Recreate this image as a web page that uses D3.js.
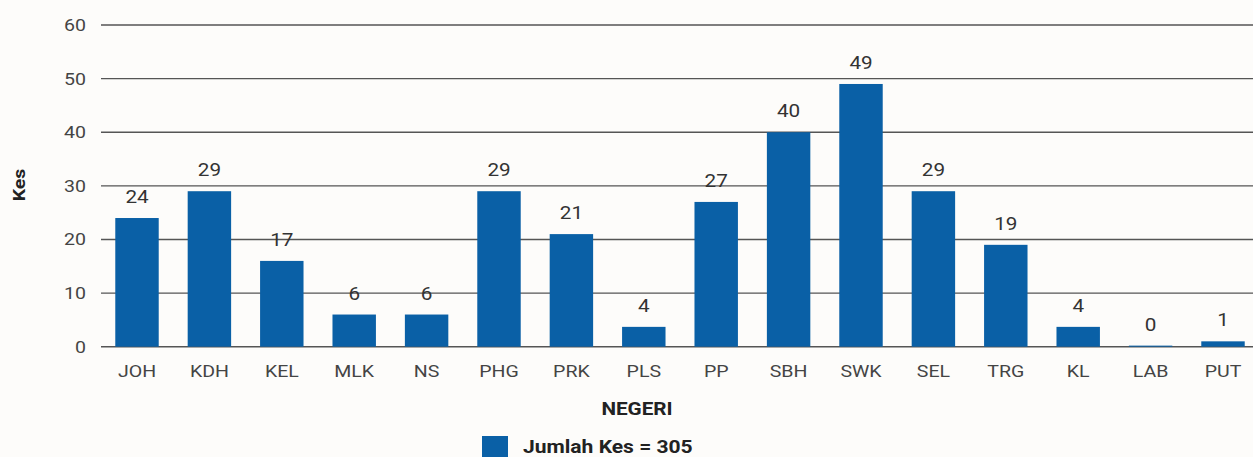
<!DOCTYPE html>
<html><head><meta charset="utf-8">
<script src="https://cdn.jsdelivr.net/npm/d3@7"></script>
<style>
html,body{margin:0;padding:0;background:#fdfcfa;}
svg{display:block;font-family:Roboto,"Noto Sans",sans-serif;}
</style></head>
<body><svg id="c" width="1253" height="457"></svg>
<script>
const categories = ["JOH","KDH","KEL","MLK","NS","PHG","PRK","PLS","PP","SBH","SWK","SEL","TRG","KL","LAB","PUT"];
const values = [24,29,16,6,6,29,21,3.7,27,40,49,29,19,3.7,0.2,1];
const valueLabels = ["24","29","17","6","6","29","21","4","27","40","49","29","19","4","0","1"];
const yTicks = [0,10,20,30,40,50,60];
const legendText = "Jumlah Kes = 305";

const svg = d3.select("#c");
const plotLeft = 101, plotRight = 1253, plotTop = 25, plotBottom = 346.7;
const bandStart = 100.8, bandEnd = 1259.2;
const x = d3.scaleBand().domain(categories).range([bandStart, bandEnd]).paddingInner(0.4).paddingOuter(0.2);
const y = d3.scaleLinear().domain([0,60]).range([plotBottom, plotTop]);
const barColor = "#0a60a6";
const SX = 1.15;

// gridlines
svg.append("g").selectAll("line").data(yTicks).join("line")
  .attr("x1", plotLeft).attr("x2", plotRight)
  .attr("y1", d => y(d)).attr("y2", d => y(d))
  .attr("stroke", "#555").attr("stroke-width", 1.4);

// y axis labels
const yAxis = svg.append("g").attr("transform", `translate(${plotLeft-15},0)`)
  .call(d3.axisLeft(y).tickValues(yTicks).tickSize(0).tickPadding(0));
yAxis.select(".domain").remove();
yAxis.selectAll("text").attr("font-size", 17).attr("fill", "#444").attr("font-family", "Roboto")
  .attr("transform", `scale(${SX},1)`);

// bars
svg.append("g").selectAll("rect").data(categories).join("rect")
  .attr("x", d => x(d)).attr("width", x.bandwidth())
  .attr("y", (d,i) => y(values[i])).attr("height", (d,i) => y(0) - y(values[i]))
  .attr("fill", barColor);

// value labels
svg.append("g").selectAll("text").data(categories).join("text")
  .attr("transform", (d,i) => `translate(${x(d) + x.bandwidth()/2},${y(values[i]) - 15}) scale(${SX},1)`)
  .attr("text-anchor", "middle").attr("font-size", 18).attr("fill", "#333")
  .text((d,i) => valueLabels[i]);

// x axis labels
const xAxis = svg.append("g").attr("transform", `translate(0,${plotBottom})`)
  .call(d3.axisBottom(x).tickSize(0).tickPadding(18));
xAxis.select(".domain").remove();
xAxis.selectAll("text").attr("font-size", 17).attr("fill", "#444").attr("font-family", "Roboto")
  .attr("transform", `scale(${SX},1)`);

// axis titles
svg.append("text").attr("transform", `translate(25,185) rotate(-90) scale(${SX},1)`)
  .attr("text-anchor", "middle").attr("font-size", 17).attr("font-weight", "bold").attr("fill", "#222")
  .text("Kes");
svg.append("text").attr("transform", `translate(637,415) scale(${SX},1)`).attr("text-anchor", "middle")
  .attr("font-size", 18).attr("font-weight", "bold").attr("fill", "#222").text("NEGERI");

// legend
svg.append("rect").attr("x", 482).attr("y", 436).attr("width", 26).attr("height", 21).attr("fill", barColor);
svg.append("text").attr("transform", `translate(523,453) scale(1.17,1)`).attr("font-size", 18).attr("font-weight", "bold")
  .attr("fill", "#222").text(legendText);
</script></body></html>
